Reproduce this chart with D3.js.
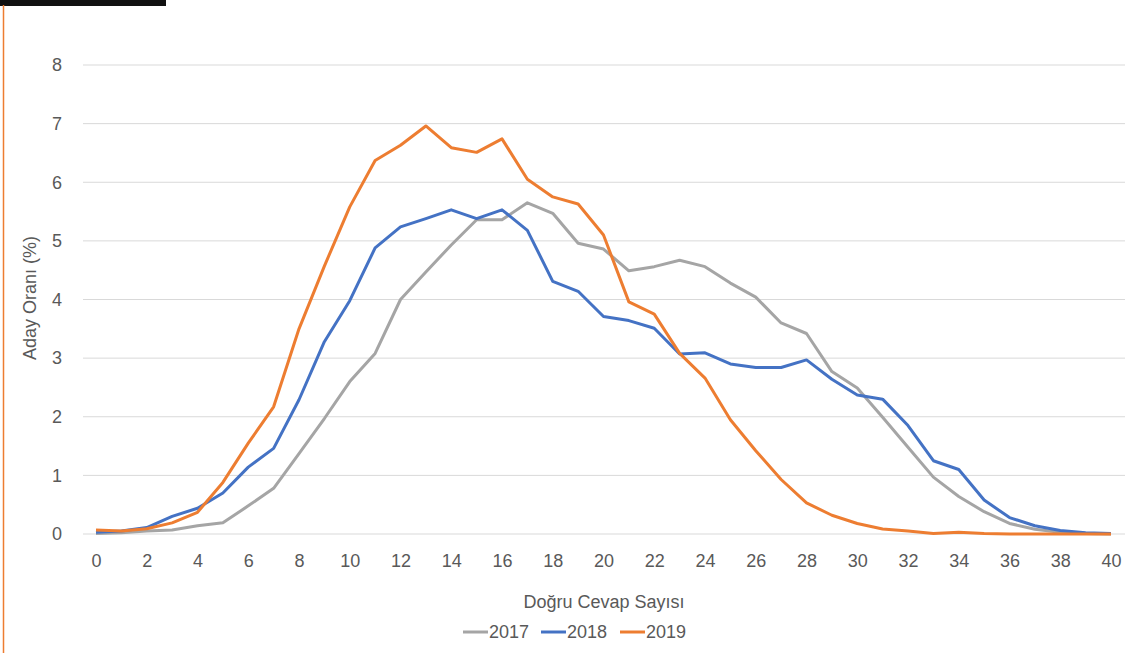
<!DOCTYPE html>
<html>
<head>
<meta charset="utf-8">
<script src="https://cdn.jsdelivr.net/npm/d3@7"></script>
<style>
  body { margin: 0; background: #fff; }
  #chart { width: 1129px; height: 653px; }
  .tick text { font-family: "Liberation Sans", Arial, sans-serif; font-size: 18px; fill: #595959; }
</style>
</head>
<body>
<div id="chart"></div>
<script>
// x values: number of correct answers 0..40
const answers = d3.range(0, 41);
const years = ["2017", "2018", "2019"];
const colors = ["#a5a5a5", "#4472c4", "#ed7d31"];

// candidate share (%) per number of correct answers
const values2017 = [0.01, 0.02, 0.05, 0.07, 0.14, 0.19, 0.48, 0.78, 1.37, 1.97, 2.6, 3.08, 4.0, 4.47, 4.93, 5.36, 5.36, 5.65, 5.47, 4.96, 4.86,
  4.49, 4.56, 4.67, 4.56, 4.28, 4.04, 3.6, 3.42, 2.77, 2.49, 1.99, 1.48, 0.97, 0.64, 0.38, 0.18, 0.08, 0.03, 0.01, 0.0];
const values2018 = [0.03, 0.05, 0.11, 0.3, 0.44, 0.7, 1.14, 1.46, 2.29, 3.28, 3.98, 4.88, 5.24, 5.38, 5.53, 5.38, 5.53, 5.18, 4.31, 4.14, 3.71,
  3.64, 3.51, 3.07, 3.09, 2.9, 2.84, 2.84, 2.97, 2.64, 2.37, 2.3, 1.85, 1.25, 1.1, 0.58, 0.28, 0.14, 0.06, 0.02, 0.01];
const values2019 = [0.07, 0.05, 0.09, 0.19, 0.37, 0.88, 1.55, 2.17, 3.5, 4.57, 5.58, 6.37, 6.63, 6.96, 6.59, 6.51, 6.74, 6.05, 5.75, 5.63, 5.1,
  3.96, 3.75, 3.08, 2.66, 1.95, 1.42, 0.93, 0.53, 0.32, 0.18, 0.085, 0.05, 0.01, 0.03, 0.01, 0.0, 0.0, 0.0, 0.0, 0.0];
const series = [values2017, values2018, values2019];

const yTicks = d3.range(0, 9);
const xTicks = d3.range(0, 41, 2);

const width = 1129, height = 653;
const font = "Liberation Sans, Arial, sans-serif";
const svg = d3.select("#chart").append("svg")
    .attr("width", width)
    .attr("height", height);

// black bar and orange frame edge at the top-left
svg.append("rect").attr("x", 0).attr("y", 0).attr("width", 166).attr("height", 6).attr("fill", "#111");
svg.append("line").attr("x1", 3.5).attr("x2", 3.5).attr("y1", 5).attr("y2", height)
    .attr("stroke", "#ed7d31").attr("stroke-width", 1.5);

const x = d3.scaleLinear().domain([0, 40]).range([96, 1111]);
const y = d3.scaleLinear().domain([0, 8]).range([534, 65]);

// gridlines
svg.append("g").selectAll("line")
    .data(yTicks)
    .enter().append("line")
    .attr("x1", 83).attr("x2", 1125)
    .attr("y1", d => y(d)).attr("y2", d => y(d))
    .attr("stroke", "#d9d9d9").attr("stroke-width", 1);

// y axis labels
const yAxis = svg.append("g")
    .attr("transform", "translate(67,0)")
    .call(d3.axisLeft(y).tickValues(yTicks).tickSize(0).tickPadding(5));
yAxis.select(".domain").remove();

// x axis labels
const xAxis = svg.append("g")
    .attr("transform", `translate(0,${y(0) + 15})`)
    .call(d3.axisBottom(x).tickValues(xTicks).tickSize(0).tickPadding(5));
xAxis.select(".domain").remove();

// axis titles
svg.append("text")
    .attr("transform", "translate(36,298) rotate(-90)")
    .attr("text-anchor", "middle")
    .style("font-family", font)
    .style("font-size", "18px")
    .style("fill", "#595959")
    .text("Aday Oranı (%)");

svg.append("text")
    .attr("x", 604).attr("y", 608)
    .attr("text-anchor", "middle")
    .style("font-family", font)
    .style("font-size", "18px")
    .style("fill", "#595959")
    .text("Doğru Cevap Sayısı");

// lines
const line = d3.line()
    .x((d, i) => x(answers[i]))
    .y(d => y(d));

svg.append("g").selectAll("path")
    .data(series)
    .enter().append("path")
    .attr("d", line)
    .attr("fill", "none")
    .attr("stroke", (d, i) => colors[i])
    .attr("stroke-width", 3)
    .attr("stroke-linejoin", "round");

// legend
const legendX = [463, 541, 620];
const legend = svg.append("g").selectAll("g")
    .data(years)
    .enter().append("g")
    .attr("transform", (d, i) => `translate(${legendX[i]},632)`);
legend.append("line")
    .attr("x1", 0).attr("x2", 25)
    .attr("stroke", (d, i) => colors[i])
    .attr("stroke-width", 3);
legend.append("text")
    .attr("x", 26).attr("y", 6)
    .style("font-family", font)
    .style("font-size", "18px")
    .style("fill", "#595959")
    .text(d => d);
</script>
</body>
</html>
